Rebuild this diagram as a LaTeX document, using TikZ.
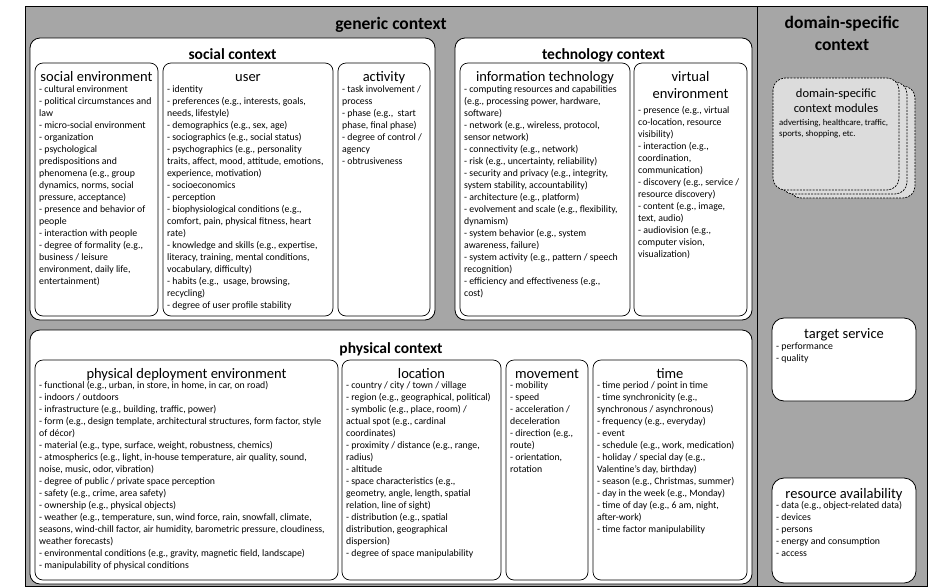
\documentclass[tikz,border=0pt]{standalone}
\usepackage{fontspec}
\setmainfont{Carlito}
\definecolor{framegray}{RGB}{166,166,166}
\definecolor{modgray}{RGB}{220,220,220}
\tikzset{
  ctxbox/.style={draw,fill=white,line width=0.8pt,rounded corners=10pt},
  subbox/.style={draw,fill=white,line width=0.7pt,rounded corners=8pt},
  modbox/.style={draw,fill=modgray,line width=0.7pt,dash pattern=on 2pt off 1.2pt,rounded corners=12pt},
  bigtitle/.style={font=\bfseries\fontsize{17.5}{22}\selectfont,align=center,anchor=north,inner sep=0pt,execute at begin node=\strut},
  ctxtitle/.style={font=\bfseries\fontsize{15.5}{18}\selectfont,anchor=north,inner sep=0pt,execute at begin node=\strut},
  boxtitle/.style={font=\fontsize{14.5}{17}\selectfont,align=center,anchor=north,inner sep=0pt,execute at begin node=\strut},
  itemlist/.style={font=\fontsize{9.8}{12}\selectfont,align=left,anchor=north west,inner sep=0pt,execute at begin node=\strut},
}
\begin{document}
\begin{tikzpicture}[x=1pt,y=-1pt]
\useasboundingbox (0,0) rectangle (940,587);
\draw[fill=framegray,line width=0.9pt] (25,6) rectangle (927,586);
\draw[line width=0.9pt] (757,6) -- (757,586);
\node[bigtitle] (gentitle) at (391,13.6) {generic context};
\node[bigtitle] (domtitle) at (842,15.6) {domain-specific\\context};

% social context
\draw[ctxbox] (30,38) rectangle (435,320);
\node[ctxtitle] (soctitle) at (232.5,46.5) {social context};
\draw[subbox] (35,63) rectangle (158,316);
\draw[subbox] (163,63) rectangle (333,316);
\draw[subbox] (338,63) rectangle (430,316);
\node[boxtitle] (socenv) at (96.5,69.6) {social environment};
\node[itemlist] (socenvlist) at (39,85.4) {- cultural environment\\
- political circumstances and\\law\\- micro-social environment\\- organization\\
- psychological\\predispositions and\\phenomena (e.g., group\\dynamics, norms, social\\
pressure, acceptance)\\- presence and behavior of\\people\\- interaction with people\\
- degree of formality (e.g.,\\business / leisure\\environment, daily life,\\entertainment)};
\node[boxtitle] (user) at (248,69.6) {user};
\node[itemlist] (userlist) at (167,85.4) {- identity\\
- preferences (e.g., interests, goals,\\needs, lifestyle)\\
- demographics (e.g., sex, age)\\- sociographics (e.g., social status)\\
- psychographics (e.g., personality\\traits, affect, mood, attitude, emotions,\\
experience, motivation)\\- socioeconomics\\- perception\\
- biophysiological conditions (e.g.,\\comfort, pain, physical fitness, heart\\rate)\\
- knowledge and skills (e.g., expertise,\\literacy, training, mental conditions,\\
vocabulary, difficulty)\\- habits (e.g.,~ usage, browsing,\\recycling)\\
- degree of user profile stability};
\node[boxtitle] (activity) at (384,69.6) {activity};
\node[itemlist] (activitylist) at (342,85.4) {- task involvement /\\process\\
- phase (e.g.,~ start\\phase, final phase)\\- degree of control /\\agency\\
- obtrusiveness};

% technology context
\draw[ctxbox] (455,38) rectangle (752,320);
\node[ctxtitle] (techtitle) at (603.5,46.5) {technology context};
\draw[subbox] (460,63) rectangle (630,316);
\draw[subbox] (634,63) rectangle (747,316);
\node[boxtitle] (infotech) at (545,69.6) {information technology};
\node[itemlist] (infotechlist) at (464,85.4) {- computing resources and capabilities\\
(e.g., processing power, hardware,\\software)\\- network (e.g., wireless, protocol,\\
sensor network)\\- connectivity (e.g., network)\\- risk (e.g., uncertainty, reliability)\\
- security and privacy (e.g., integrity,\\system stability, accountability)\\
- architecture (e.g., platform)\\- evolvement and scale (e.g., flexibility,\\dynamism)\\
- system behavior (e.g., system\\awareness, failure)\\
- system activity (e.g., pattern / speech\\recognition)\\
- efficiency and effectiveness (e.g.,\\cost)};
\node[boxtitle] (virtenv) at (690.5,71.5) {virtual\\environment};
\node[itemlist] (virtenvlist) at (638,106) {- presence (e.g., virtual\\
co-location, resource\\visibility)\\- interaction (e.g.,\\coordination,\\
communication)\\- discovery (e.g., service /\\resource discovery)\\
- content (e.g., image,\\text, audio)\\- audiovision (e.g.,\\computer vision,\\visualization)};

% physical context
\draw[ctxbox] (30,330) rectangle (752,584);
\node[ctxtitle] (phystitle) at (391,340.5) {physical context};
\draw[subbox] (35,360) rectangle (338,580);
\draw[subbox] (342,360) rectangle (501,580);
\draw[subbox] (506,360) rectangle (588,580);
\draw[subbox] (593,360) rectangle (747,580);
\node[boxtitle] (physenv) at (186.5,366) {physical deployment environment};
\node[itemlist] (physenvlist) at (39,381.6) {- functional (e.g., urban, in store, in home, in car, on road)\\
- indoors / outdoors\\- infrastructure (e.g., building, traffic, power)\\
- form (e.g., design template, architectural structures, form factor, style\\of décor)\\
- material (e.g., type, surface, weight, robustness, chemics)\\
- atmospherics (e.g., light, in-house temperature, air quality, sound,\\
noise, music, odor, vibration)\\- degree of public / private space perception\\
- safety (e.g., crime, area safety)\\- ownership (e.g., physical objects)\\
- weather (e.g., temperature, sun, wind force, rain, snowfall, climate,\\
seasons, wind-chill factor, air humidity, barometric pressure, cloudiness,\\
weather forecasts)\\- environmental conditions (e.g., gravity, magnetic field, landscape)\\
- manipulability of physical conditions};
\node[boxtitle] (location) at (421.5,366) {location};
\node[itemlist] (locationlist) at (346,381.6) {- country / city / town / village\\
- region (e.g., geographical, political)\\- symbolic (e.g., place, room) /\\
actual spot (e.g., cardinal\\coordinates)\\- proximity / distance (e.g., range,\\radius)\\
- altitude\\- space characteristics (e.g.,\\geometry, angle, length, spatial\\
relation, line of sight)\\- distribution (e.g., spatial\\distribution, geographical\\
dispersion)\\- degree of space manipulability};
\node[boxtitle] (movement) at (547,366) {movement};
\node[itemlist] (movementlist) at (510,381.6) {- mobility\\- speed\\- acceleration /\\
deceleration\\- direction (e.g.,\\route)\\- orientation,\\rotation};
\node[boxtitle] (time) at (670,366) {time};
\node[itemlist] (timelist) at (597,381.6) {- time period / point in time\\
- time synchronicity (e.g.,\\synchronous / asynchronous)\\- frequency (e.g., everyday)\\
- event\\- schedule (e.g., work, medication)\\- holiday / special day (e.g.,\\
Valentine’s day, birthday)\\- season (e.g., Christmas, summer)\\
- day in the week (e.g., Monday)\\- time of day (e.g., 6 am, night,\\after-work)\\
- time factor manipulability};

% domain-specific context
\foreach \d in {16,8,0}
  \draw[modbox] (773+\d,78+\d/2) rectangle (899+\d,190+\d/2);
\node[font=\fontsize{12.5}{15}\selectfont,align=center,anchor=north,inner sep=0pt,execute at begin node=\strut] (modules) at (836,88.5) {domain-specific\\context modules};
\node[font=\fontsize{8.8}{10.5}\selectfont,align=left,anchor=north west,inner sep=0pt,execute at begin node=\strut] (moduleslist) at (779,119.2) {advertising, healthcare, traffic,\\sports, shopping, etc.};
\draw[ctxbox,rounded corners=12pt] (772,318) rectangle (916,401);
\node[boxtitle] (target) at (844,326) {target service};
\node[itemlist] (targetlist) at (776,342.6) {- performance\\- quality};
\draw[ctxbox,rounded corners=12pt] (772,478) rectangle (916,583);
\node[boxtitle] (resource) at (844,486) {resource availability};
\node[itemlist] (resourcelist) at (776,501.4) {- data (e.g., object-related data)\\
- devices\\- persons\\- energy and consumption\\- access};
\end{tikzpicture}
\end{document}
